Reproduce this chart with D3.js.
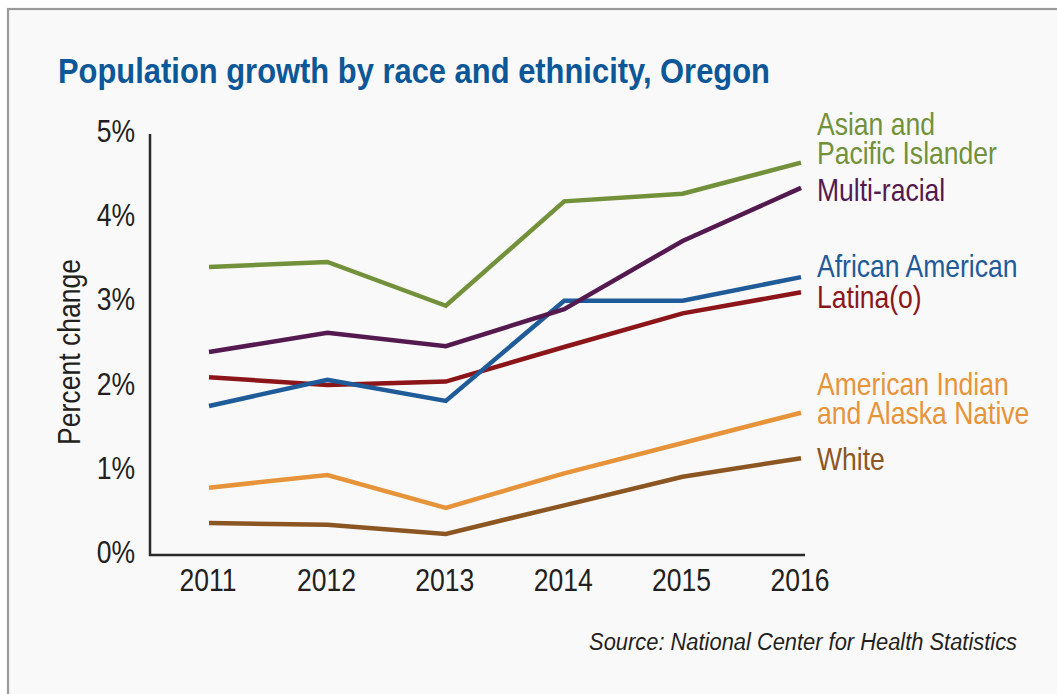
<!DOCTYPE html>
<html>
<head>
<meta charset="utf-8">
<script src="https://cdn.jsdelivr.net/npm/d3@7"></script>
<style>
  body { margin: 0; background: #fff; }
  svg { display: block; }
  text { font-family: "Liberation Sans", Arial, Helvetica, sans-serif; }
</style>
</head>
<body>
<svg id="chart" width="1057" height="694"></svg>
<script>
// years on the x axis
const years = ['2011', '2012', '2013', '2014', '2015', '2016']
// y tick values (percent)
const yTicks = [0, 1, 2, 3, 4, 5]

// series values, percent change per year
const asianPacific = [3.42, 3.48, 2.96, 4.20, 4.29, 4.66]
const multiRacial = [2.41, 2.64, 2.48, 2.92, 3.73, 4.36]
const africanAmerican = [1.77, 2.08, 1.83, 3.02, 3.02, 3.30]
const latino = [2.11, 2.02, 2.06, 2.47, 2.87, 3.12]
const amIndianAlaska = [0.80, 0.95, 0.56, 0.97, 1.33, 1.69]
const white = [0.38, 0.36, 0.25, 0.59, 0.93, 1.15]

const seriesNames = [
  ['Asian and', 'Pacific Islander'],
  ['Multi-racial'],
  ['African American'],
  ['Latina(o)'],
  ['American Indian', 'and Alaska Native'],
  ['White'],
]
const seriesValues = [asianPacific, multiRacial, africanAmerican, latino, amIndianAlaska, white]

// drawing styles
const colors = ['#72913a', '#54194f', '#1e5b98', '#8c1519', '#e7933a', '#8b5622']
// label baselines (px) for the right-hand labels
const labelTop = [135, 201, 277, 308, 395, 470]

// condensed look: squeeze text horizontally
const squeeze = 0.87

function makeChart() {
  const svg = d3.select('#chart')

  // panel background and frame
  svg.append('rect')
    .attr('x', 8).attr('y', 9)
    .attr('width', 1200).attr('height', 800)
    .attr('fill', '#f9f9f9')
    .attr('stroke', '#9a9a9a')
    .attr('stroke-width', 2.2)

  // title, squeezed to span the same width as the original
  const title = svg.append('text')
    .attr('font-size', 34.5)
    .attr('font-weight', 'bold')
    .attr('fill', '#0c5797')
    .text('Population growth by race and ethnicity, Oregon')
  const tw = title.node().getComputedTextLength()
  title.attr('transform', `translate(58,83) scale(${712 / tw},1)`)

  const x = d3.scalePoint().domain(years).range([209, 801])
  const y = d3.scaleLinear().domain([0, 5]).range([555, 134])

  // y tick labels
  svg.append('g').selectAll('text')
    .data(yTicks)
    .join('text')
    .attr('transform', d => `translate(135,${y(d) - 3}) scale(${squeeze},1)`)
    .attr('dy', '0.36em')
    .attr('text-anchor', 'end')
    .attr('font-size', 30.5)
    .attr('fill', '#231f20')
    .text(d => d + '%')

  // x tick labels
  svg.append('g').selectAll('text')
    .data(years)
    .join('text')
    .attr('transform', d => `translate(${x(d) - 1},591) scale(${squeeze},1)`)
    .attr('text-anchor', 'middle')
    .attr('font-size', 30.5)
    .attr('fill', '#231f20')
    .text(d => d)

  // y axis title
  svg.append('text')
    .attr('transform', `translate(80,352) rotate(-90) scale(${squeeze},1)`)
    .attr('text-anchor', 'middle')
    .attr('font-size', 30.5)
    .attr('fill', '#231f20')
    .text('Percent change')

  // axis lines
  svg.append('path')
    .attr('d', `M150,${y(5)}V${y(0)}H805`)
    .attr('fill', 'none')
    .attr('stroke', '#2a2a2a')
    .attr('stroke-width', 2.5)

  const line = d3.line()
    .x((d, i) => x(years[i]))
    .y(d => y(d))

  // series lines, drawn bottom-up so upper series sit on top
  svg.append('g').selectAll('path')
    .data(seriesValues.map((v, i) => ({ v, i })).reverse())
    .join('path')
    .attr('d', d => line(d.v))
    .attr('fill', 'none')
    .attr('stroke', d => colors[d.i])
    .attr('stroke-width', 4.5)

  // right-hand series labels
  const labels = svg.append('g').selectAll('text')
    .data(seriesNames)
    .join('text')
    .attr('transform', (d, i) => `translate(817,${labelTop[i]}) scale(${squeeze},1)`)
    .attr('font-size', 30.5)
    .attr('fill', (d, i) => colors[i])

  labels.selectAll('tspan')
    .data(d => d)
    .join('tspan')
    .attr('x', 0)
    .attr('dy', (d, i) => i === 0 ? 0 : 29)
    .text(d => d)

  // source note, right aligned
  const src = svg.append('text')
    .attr('text-anchor', 'end')
    .attr('font-size', 24.5)
    .attr('font-style', 'italic')
    .attr('fill', '#231f20')
    .text('Source: National Center for Health Statistics')
  const sw = src.node().getComputedTextLength()
  src.attr('transform', `translate(1017,650) scale(${428 / sw},1)`)
}

window.onload = makeChart
</script>
</body>
</html>
